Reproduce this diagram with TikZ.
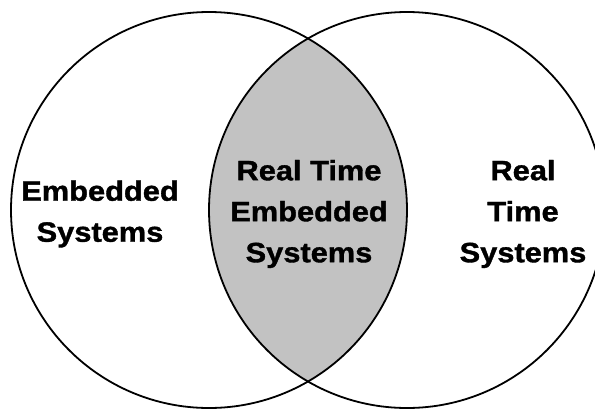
\documentclass[tikz,border=0pt]{standalone}
\usepackage{fontspec}
\newfontfamily\labfont{Liberation Sans}[FakeStretch=1.1,BoldFeatures={FakeBold=1.3}]
\begin{document}
\begin{tikzpicture}[x=1pt,y=-1pt,
  ring/.style={draw=black,line width=1.8pt},
  lbl/.style={font=\labfont\bfseries\fontsize{28}{41}\selectfont,align=center,inner sep=0pt}]
\useasboundingbox (0,0) rectangle (595,408);
\coordinate (cl) at (209,210);
\coordinate (cr) at (407,210);
\begin{scope}
  \clip (cl) circle (198);
  \fill[fill={rgb,255:red,194;green,194;blue,194}] (cr) circle (198);
\end{scope}
\draw[ring] (cl) circle (198);
\draw[ring] (cr) circle (198);
\node[lbl] (emb) at (100,214) {Embedded\\Systems};
\node[lbl] (rtes) at (309,214) {Real Time\\Embedded\\Systems};
\node[lbl] (rts) at (523,214) {Real\\Time\\Systems};
\end{tikzpicture}
\end{document}
